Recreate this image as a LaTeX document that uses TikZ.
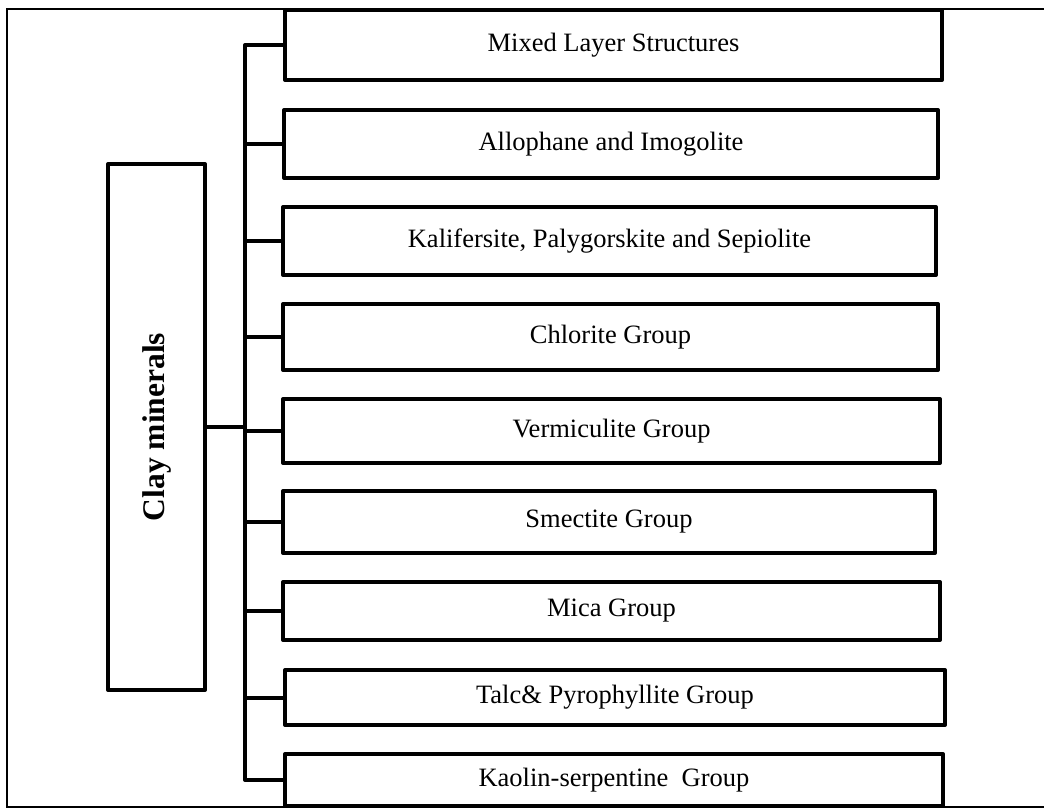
\documentclass[tikz,border=0pt]{standalone}
\usepackage{fontspec}
\setmainfont{Liberation Serif}
\usepackage{graphicx}
\begin{document}
\begin{tikzpicture}[x=1pt,y=-1pt,
  box/.style={draw=black,line width=4pt,line join=round,rectangle,inner sep=0pt,outer sep=0pt,
    font=\fontsize{26.5}{32}\selectfont,align=center},
  conn/.style={draw=black,line width=4pt,line join=round},
  frame/.style={draw=black,line width=2pt}]
\clip (0,0) rectangle (1044,810);
\useasboundingbox (0,0) rectangle (1044,810);
\fill[white] (0,0) rectangle (1044,810);
\draw[frame] (7,9) rectangle (1060,807);
% boxes
\node[box,minimum width=657,minimum height=70] (b1) at (613.5,45) {Mixed Layer Structures};
\node[box,minimum width=654,minimum height=68] (b2) at (611,144) {Allophane and Imogolite};
\node[box,minimum width=653,minimum height=68] (b3) at (609.5,241) {Kalifersite, Palygorskite and Sepiolite};
\node[box,minimum width=655,minimum height=66] (b4) at (610.5,337) {Chlorite Group};
\node[box,minimum width=657,minimum height=64] (b5) at (611.5,431) {Vermiculite Group};
\node[box,minimum width=652,minimum height=62] (b6) at (609,522) {Smectite Group};
\node[box,minimum width=657,minimum height=58] (b7) at (611.5,611) {Mica Group};
\node[box,minimum width=660,minimum height=55] (b8) at (615,697.5) {Talc\& Pyrophyllite Group};
\node[box,minimum width=658,minimum height=52] (b9) at (614,780) {Kaolin-serpentine\ \ Group};
\node[box,minimum width=97,minimum height=526] (clay) at (156.5,427)
  {\rotatebox{90}{\fontsize{31.5}{38}\selectfont\bfseries Clay minerals}};
% connectors
\coordinate (tx) at (245,427);
\draw[conn] (b1.west) -| (tx);
\draw[conn] (b9.west) -| (tx);
\draw[conn] (clay.east) -- (tx);
\foreach \b in {b2,b3,b4,b5,b6,b7,b8}
  \draw[conn] (\b.west) -- (\b.west -| tx);
\end{tikzpicture}
\end{document}
